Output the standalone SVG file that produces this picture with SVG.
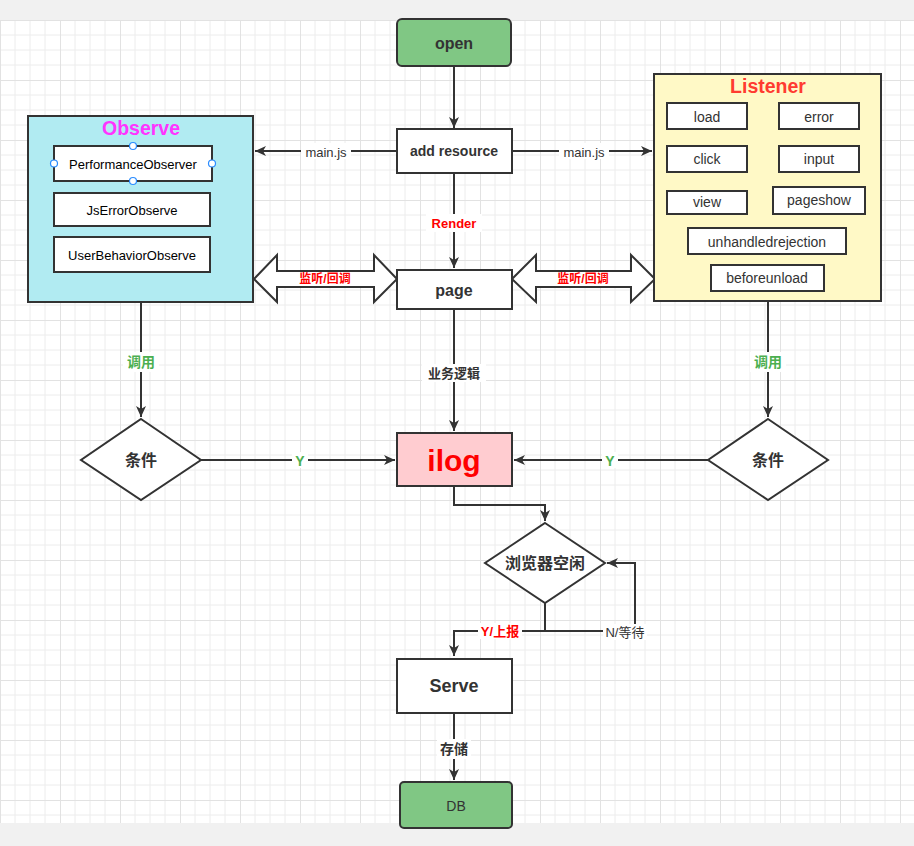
<svg xmlns="http://www.w3.org/2000/svg" width="914" height="846" viewBox="0 0 914 846">
<defs>
<pattern id="grid" x="0" y="20" width="60" height="60" patternUnits="userSpaceOnUse">
<path d="M15 0V60M30 0V60M45 0V60M0 15H60M0 30H60M0 45H60" stroke="#ececec" stroke-width="1" fill="none"/>
<path d="M0.5 0V60M0 0.5H60" stroke="#e2e2e2" stroke-width="1" fill="none"/>
</pattern>
<marker id="arr" markerUnits="userSpaceOnUse" markerWidth="12" markerHeight="12" viewBox="0 0 12 12" refX="11" refY="6" orient="auto">
<path d="M0 1L11 6L0 11L3 6Z" fill="#333"/>
</marker>
<style>
.box{fill:#fff;stroke:#333;stroke-width:2}
.g{fill:#80c784;stroke:#333;stroke-width:2}
.ln{fill:none;stroke:#333;stroke-width:2}
.t{font-family:"Liberation Sans",Arial,"Noto Sans CJK SC",sans-serif;fill:#333;text-anchor:middle;dominant-baseline:central}
.b{font-weight:bold}
.cn{font-family:"Liberation Sans","Noto Sans CJK SC",sans-serif}
.lb{fill:#fff}
.h{fill:#fff;stroke:#2a8cff;stroke-width:1.2}
</style>
</defs>
<rect width="914" height="846" fill="#f1f1f1"/>
<rect x="0" y="20" width="914" height="803" fill="#fff"/>
<rect x="0" y="20" width="914" height="803" fill="url(#grid)"/>

<g id="edges">
<path class="ln" d="M454 66V128" marker-end="url(#arr)"/>
<path class="ln" d="M397 151H255" marker-end="url(#arr)"/>
<rect class="lb" x="301" y="143" width="50" height="16"/>
<text class="t" x="326" y="152" font-size="13">main.js</text>
<path class="ln" d="M512 151H652" marker-end="url(#arr)"/>
<rect class="lb" x="559" y="143" width="50" height="16"/>
<text class="t" x="584" y="152" font-size="13">main.js</text>
<path class="ln" d="M454 173V268" marker-end="url(#arr)"/>
<rect class="lb" x="426" y="214" width="56" height="18"/>
<text class="t b" x="454" y="223" font-size="13" style="fill:#ff0000">Render</text>
<path d="M254 279L277 255V271H374V255L397 279L374 302V287H277V302Z" fill="#fff" stroke="#333" stroke-width="2"/>
<text class="t b cn" x="325" y="279" font-size="12" style="fill:#ff0000">监听/回调</text>
<path d="M512 279L536 255V271H631V255L655 279L631 302V287H536V302Z" fill="#fff" stroke="#333" stroke-width="2"/>
<text class="t b cn" x="583" y="279" font-size="12" style="fill:#ff0000">监听/回调</text>
<path class="ln" d="M454 309V431" marker-end="url(#arr)"/>
<rect class="lb" x="422" y="364" width="64" height="18"/>
<text class="t b cn" x="454" y="373" font-size="13">业务逻辑</text>
<path class="ln" d="M141 302V417" marker-end="url(#arr)"/>
<rect class="lb" x="123" y="352" width="36" height="20"/>
<text class="t b cn" x="141" y="362" font-size="14" style="fill:#4caf50">调用</text>
<path class="ln" d="M768 301V417" marker-end="url(#arr)"/>
<rect class="lb" x="750" y="352" width="36" height="20"/>
<text class="t b cn" x="768" y="362" font-size="14" style="fill:#4caf50">调用</text>
<path class="ln" d="M201 460H395" marker-end="url(#arr)"/>
<rect class="lb" x="292" y="452" width="16" height="16"/>
<text class="t b" x="300" y="461" font-size="14" style="fill:#4caf50">Y</text>
<path class="ln" d="M708 460H514" marker-end="url(#arr)"/>
<rect class="lb" x="602" y="452" width="16" height="16"/>
<text class="t b" x="610" y="461" font-size="14" style="fill:#4caf50">Y</text>
<path class="ln" d="M454 486V505H545V521" marker-end="url(#arr)"/>
<path class="ln" d="M545 603V631H454V656" marker-end="url(#arr)"/>
<rect class="lb" x="478" y="623" width="44" height="16"/>
<text class="t b cn" x="500" y="631" font-size="13" style="fill:#ff0000">Y/上报</text>
<path class="ln" d="M545 631H635V563H607" marker-end="url(#arr)"/>
<rect class="lb" x="603" y="624" width="44" height="16"/>
<text class="t cn" x="625" y="632" font-size="13">N/等待</text>
<path class="ln" d="M454 713V780" marker-end="url(#arr)"/>
<rect class="lb" x="437" y="739" width="34" height="20"/>
<text class="t b cn" x="454" y="749" font-size="14">存储</text>
</g>

<g id="open">
<rect class="g" x="397" y="19" width="114" height="47" rx="5"/>
<text class="t b" x="454" y="43" font-size="16">open</text>
</g>
<g id="add-resource">
<rect class="box" x="397" y="129" width="115" height="44"/>
<text class="t b" x="454" y="151" font-size="14">add resource</text>
</g>
<g id="page">
<rect class="box" x="397" y="270" width="115" height="39"/>
<text class="t b" x="454" y="290" font-size="16">page</text>
</g>
<g id="observe">
<rect x="28" y="116" width="225" height="186" fill="#b1ebf2" stroke="#333" stroke-width="2"/>
<text class="t b" x="141" y="128" font-size="19.5" style="fill:#ff33ff">Observe</text>
<g id="performance-observer">
<rect class="box" x="54" y="146" width="158" height="35"/>
<text class="t" x="133" y="164" font-size="13" style="fill:#000">PerformanceObserver</text>
<circle class="h" cx="133" cy="146" r="3.5"/>
<circle class="h" cx="133" cy="181" r="3.5"/>
<circle class="h" cx="54" cy="163.5" r="3.5"/>
<circle class="h" cx="212" cy="163.5" r="3.5"/>
</g>
<g id="js-error-observe">
<rect class="box" x="54" y="193" width="156" height="33"/>
<text class="t" x="132" y="210" font-size="13" style="fill:#000">JsErrorObserve</text>
</g>
<g id="user-behavior-observe">
<rect class="box" x="54" y="237" width="156" height="35"/>
<text class="t" x="132" y="255" font-size="13" style="fill:#000">UserBehaviorObserve</text>
</g>
</g>
<g id="listener">
<rect x="654" y="74" width="227" height="227" fill="#fff9c6" stroke="#333" stroke-width="2"/>
<text class="t b" x="768" y="86" font-size="19.5" style="fill:#ff3b30">Listener</text>
<g id="load"><rect class="box" x="667" y="103" width="80" height="26"/><text class="t" x="707" y="117" font-size="14">load</text></g>
<g id="error"><rect class="box" x="779" y="103" width="80" height="26"/><text class="t" x="819" y="117" font-size="14">error</text></g>
<g id="click"><rect class="box" x="667" y="146" width="80" height="26"/><text class="t" x="707" y="159" font-size="14">click</text></g>
<g id="input"><rect class="box" x="779" y="146" width="80" height="26"/><text class="t" x="819" y="159" font-size="14">input</text></g>
<g id="view"><rect class="box" x="667" y="191" width="80" height="23"/><text class="t" x="707" y="202" font-size="14">view</text></g>
<g id="pageshow"><rect class="box" x="773" y="187" width="92" height="27"/><text class="t" x="819" y="200" font-size="14">pageshow</text></g>
<g id="unhandledrejection"><rect class="box" x="688" y="228" width="158" height="26"/><text class="t" x="767" y="242" font-size="14">unhandledrejection</text></g>
<g id="beforeunload"><rect class="box" x="711" y="265" width="113" height="26"/><text class="t" x="767" y="278" font-size="14">beforeunload</text></g>
</g>
<g id="cond-left">
<path class="box" d="M141 419L201 460L141 500L81 460Z"/>
<text class="t b cn" x="141" y="460" font-size="16">条件</text>
</g>
<g id="cond-right">
<path class="box" d="M768 419L828 460L768 500L708 460Z"/>
<text class="t b cn" x="768" y="460" font-size="16">条件</text>
</g>
<g id="ilog">
<rect x="397" y="433" width="115" height="53" fill="#ffccd0" stroke="#333" stroke-width="2"/>
<text class="t b" x="454" y="460" font-size="30" style="fill:#ff0000">ilog</text>
</g>
<g id="browser-idle">
<path class="box" d="M545 523L605 563L545 603L485 563Z"/>
<text class="t b cn" x="545" y="563" font-size="16">浏览器空闲</text>
</g>
<g id="serve">
<rect class="box" x="397" y="659" width="115" height="54"/>
<text class="t b" x="454" y="686" font-size="18">Serve</text>
</g>
<g id="db">
<rect class="g" x="400" y="782" width="112" height="46" rx="4"/>
<text class="t" x="456" y="806" font-size="14">DB</text>
</g>
</svg>
